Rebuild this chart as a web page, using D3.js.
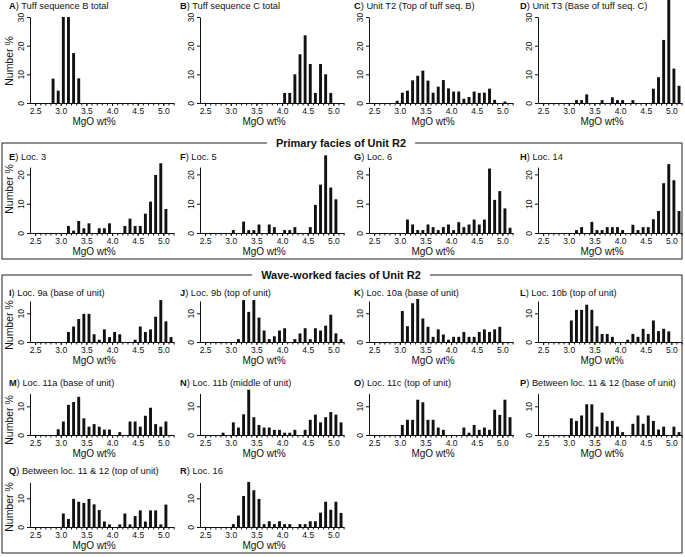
<!DOCTYPE html>
<html>
<head>
<meta charset="utf-8">
<script src="https://cdn.jsdelivr.net/npm/d3@7"></script>
<style>
  body { margin: 0; background: #fff; }
  text { font-family: "Liberation Sans", Arial, sans-serif; fill: #111; }
</style>
</head>
<body>
<svg id="chart" width="685" height="557"></svg>
<script>
// Centres des classes MgO (largeur 0.1 wt%)
const binCentres = [2.45, 2.55, 2.65, 2.75, 2.85, 2.95, 3.05, 3.15, 3.25, 3.35,
                    3.45, 3.55, 3.65, 3.75, 3.85, 3.95, 4.05, 4.15, 4.25, 4.35,
                    4.45, 4.55, 4.65, 4.75, 4.85, 4.95, 5.05, 5.15];
const xTickValues = [2.5, 3.0, 3.5, 4.0, 4.5, 5.0];
const xTickLabels = ["2.5", "3.0", "3.5", "4.0", "4.5", "5.0"];

// Number % par classe
const countsA = [0,0,0,0,8.5,4.3,30,30,17.4,8.6, 0,0,0,0,0,0,0,0,0,0, 0,0,0,0,0,0,0,0];
const countsB = [0,0,0,0,0,0,0,0,0,0, 0,0,0,0,0,0,3.5,3.5,10,17, 23.6,13.6,3.5,13.6,10,3.5,0,0];
const countsC = [0,0,0,0,0,0.8,3.6,4.3,7.9,9.5, 11.3,7.8,3.6,5.7,8,5.1,4,4,1.5,2.1, 4,3.5,3.6,5,1.1,0,0.5,0];
const countsD = [0,0,0,0,0,0,0,1,1,3, 0,0,1,0,2,1,1,0,1,0, 0,0,5,9,22,36,12,6];
const countsE = [0,0,0,0,0,0,0,2.4,0.8,4.1, 1.6,3.3,0,1.6,1.6,3.3,0,0,2.4,4.9, 2.4,2.4,6.6,10.7,19.8,23.8,8.2,0];
const countsF = [0,0,0,0,0,0,1,0,3.9,1, 1,2.9,0,2.9,2,0,1,1,2,0, 0,2,9.6,16.5,26.5,15.5,11.5,0];
const countsG = [0,0,0,0,0,0,0,4.6,2.9,1, 1,2.9,2,1,2,2.9,1,3.7,2,2.9, 4.6,2.9,4.6,22,11.3,14.3,8.4,1.8];
const countsH = [0,0,0,0,0,0,0,1,2,0, 3.8,1,1,2,2,2,1,0,2.8,1, 2,2,4.7,7.5,17,23.5,18,7.5];
const countsI = [0,0,0,0,0,0,0,3.5,5.4,8, 9.8,9.8,2.7,0.8,4.4,1.7,3.5,2.7,0,0, 0.8,5.4,3.5,4.4,8.8,14.6,7.2,1.7];
const countsJ = [0,0,0,0,0,0,0,1,14.6,10.5, 14.6,8.5,4,1,2,4,4.8,0,1,3, 4.8,1,4.8,4,5.7,9.5,3,1];
const countsK = [0,0,0,0,0,0,10.8,5.5,13.5,15, 8.2,5.3,1.8,4.4,2.6,0.8,1.8,1.8,3.5,1.8, 1.8,3.5,4.4,3.5,4.4,5.3,0,0];
const countsL = [0,0,0,0,0,0,7.5,11.2,11.2,13, 11.2,5.5,2.8,2.8,1.8,0,0,0.8,2.8,1.8, 4.6,2.8,7.5,3.8,4.6,3.7,0,0];
const countsM = [0,0,0,0,0,2,4.7,10.5,11.5,13.3, 5.8,2.9,3.8,2.9,1.9,1.9,0,1,0,4.7, 4.7,2.9,6.7,9.5,3.8,2.9,4.7,0];
const countsN = [0,0,0,0,0.8,0,4.4,2.6,7.2,15.8, 6.2,3.5,2.6,2.6,1.8,1.8,0.8,0.8,1.8,0, 1.8,5.3,7.1,4.4,6.2,8,7.1,4.4];
const countsO = [0,0,0,0,0,0,3.5,5.3,5.3,12.3, 11.4,5.3,5.3,2.6,1.8,0,0,0,2.6,0.8, 3.5,1.8,2.6,1.8,8.8,7,12.3,6.2];
const countsP = [0,0,0,0,0,0,5.8,4.9,6.8,10.7, 10.7,2.9,7.8,4.9,4.9,2.9,1,0,3.9,6.8, 3.9,6.8,4.9,1.9,2.9,0,2.9,1];
const countsQ = [0,0,0,0,0,0,4.7,2.8,9.8,8.8, 8.4,9.8,7.9,5.9,1.9,0.9,0,0.9,4.7,0.9, 3.8,5.8,1.9,5.8,5.8,0.9,7.8,0];
const countsR = [0,0,0,0,0,0,1,4,10.8,15.7, 12.8,9.8,1,2,1,2,1,1,0,1, 1,2,2,5,8.8,6,8.8,4.9];

const panelLetters = ["A","B","C","D","E","F","G","H","I","J","K","L","M","N","O","P","Q","R"];
const panelNames = [
  "Tuff sequence B total", "Tuff sequence C total",
  "Unit T2 (Top of tuff seq. B)", "Unit T3 (Base of tuff seq. C)",
  "Loc. 3", "Loc. 5", "Loc. 6", "Loc. 14",
  "Loc. 9a (base of unit)", "Loc. 9b (top of unit)",
  "Loc. 10a (base of unit)", "Loc. 10b (top of unit)",
  "Loc. 11a (base of unit)", "Loc. 11b (middle of unit)",
  "Loc. 11c (top of unit)", "Between loc. 11 & 12 (base of unit)",
  "Between loc. 11 & 12 (top of unit)", "Loc. 16"
];
const panelCounts = [countsA, countsB, countsC, countsD, countsE, countsF, countsG, countsH, countsI,
                     countsJ, countsK, countsL, countsM, countsN, countsO, countsP, countsQ, countsR];
const yTicksByRow = [[0,10,20,30], [0,10,20], [0,10], [0,10], [0,10]];
const yMaxByRow = [30, 22.5, 14.3, 14.5, 15.5];
const boxTitles = ["Primary facies of Unit R2", "Wave-worked facies of Unit R2"];

// Mise en page
const colAxisX = [30, 200, 369, 538];
const colTitleX = [9, 180, 354, 520];
const rowZeroY = [103, 233, 342, 435, 527];
const rowPxPerUnit = [2.867, 2.93, 2.87, 2.87, 2.87];
const rowTitleY = [9, 160, 296, 386, 474];
const rowYLabelY = [61, 189, 325, 420, 507];
const plotWidth = 143.6;
const barWidth = 2.9;

const svg = d3.select("#chart");

// Cadres des faciès
const boxes = [
  {x: 2, y: 143, w: 680, h: 116, title: boxTitles[0]},
  {x: 2, y: 275, w: 680, h: 278, title: boxTitles[1]}
];
boxes.forEach(b => {
  svg.append("rect")
    .attr("x", b.x).attr("y", b.y).attr("width", b.w).attr("height", b.h)
    .attr("fill", "none").attr("stroke", "#222").attr("stroke-width", 1);
  const t = svg.append("text")
    .attr("x", 341).attr("y", b.y + 4)
    .attr("text-anchor", "middle")
    .style("font-size", "11px").style("font-weight", "bold")
    .text(b.title);
  const bb = t.node().getBBox();
  svg.insert("rect", "text:last-of-type")
    .attr("x", bb.x - 9).attr("y", b.y - 3).attr("width", bb.width + 18).attr("height", 6)
    .attr("fill", "#fff");
  t.raise();
});

const x = d3.scaleLinear().domain([2.4, 5.2]).range([0, plotWidth]);

panelCounts.forEach((counts, i) => {
  const row = Math.floor(i / 4);
  const col = i % 4;
  const y0 = rowZeroY[row];
  const ppu = rowPxPerUnit[row];
  const yMax = yMaxByRow[row];
  const y = d3.scaleLinear().domain([0, yMax]).range([y0, y0 - yMax * ppu]);

  const g = svg.append("g").attr("transform", "translate(" + colAxisX[col] + ",0)");

  // Titre du panneau
  const title = svg.append("text")
    .attr("x", colTitleX[col]).attr("y", rowTitleY[row])
    .style("font-size", "9.3px");
  title.append("tspan").style("font-weight", "bold").text(panelLetters[i]);
  title.append("tspan").text(") " + panelNames[i]);

  // Barres
  g.selectAll("rect.bar")
    .data(binCentres.map((c, k) => ({c: c, v: counts[k]})).filter(d => d.v > 0))
    .enter()
    .append("rect")
    .attr("class", "bar")
    .attr("x", d => x(d.c) - barWidth / 2)
    .attr("y", d => y(d.v))
    .attr("width", barWidth)
    .attr("height", d => y0 - y(d.v))
    .attr("fill", "#111");

  // Axe X : petites graduations tous les 0.1
  const minor = d3.axisBottom(x)
    .tickValues(d3.range(25, 53).map(d => d / 10))
    .tickSize(2.5).tickSizeOuter(0).tickFormat("");
  g.append("g").attr("transform", "translate(0," + y0 + ")").call(minor);

  const major = d3.axisBottom(x)
    .tickValues(xTickValues)
    .tickSize(3).tickSizeOuter(0)
    .tickFormat((d, k) => xTickLabels[k]);
  const gx = g.append("g").attr("transform", "translate(0," + y0 + ")").call(major);
  gx.selectAll("text").attr("y", 5).attr("dy", "0.71em").style("font-size", "8.5px").style("fill", "#111");

  g.selectAll(".domain, .tick line").attr("stroke", "#111");

  g.append("text")
    .attr("x", x(3.65)).attr("y", y0 + 22)
    .attr("text-anchor", "middle")
    .style("font-size", "10px")
    .text("MgO wt%");

  // Axe Y
  const gy = g.append("g")
    .call(d3.axisLeft(y).tickValues(yTicksByRow[row]).tickSize(3).tickSizeOuter(0));
  gy.selectAll("text")
    .attr("transform", "rotate(-90)")
    .attr("x", 0).attr("y", -6).attr("dy", 0)
    .attr("text-anchor", "middle")
    .style("font-size", "8.5px").style("fill", "#111");
  gy.selectAll(".domain, .tick line").attr("stroke", "#111");

  if (col === 0) {
    svg.append("text")
      .attr("transform", "translate(13," + rowYLabelY[row] + ") rotate(-90)")
      .attr("text-anchor", "middle")
      .style("font-size", "10.5px")
      .text("Number %");
  }
});
</script>
</body>
</html>
